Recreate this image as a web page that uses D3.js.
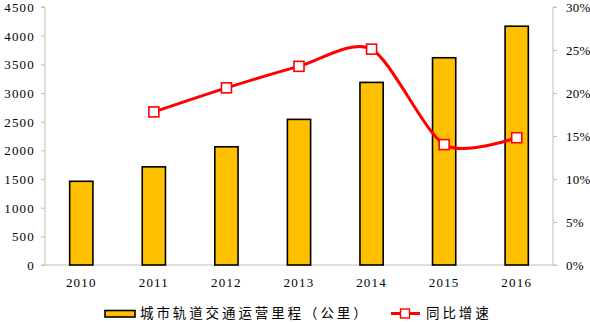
<!DOCTYPE html>
<html><head><meta charset="utf-8">
<script src="https://cdn.jsdelivr.net/npm/d3@7"></script>
<style>
body{margin:0;background:#fff;}
svg{display:block;}
.tk{font-family:"Liberation Serif","Times New Roman",serif;font-size:13px;fill:#000;letter-spacing:1.2px;}
.tkr{font-family:"Liberation Serif","Times New Roman",serif;font-size:13px;fill:#000;letter-spacing:0.3px;}
.lg{font-family:"Noto Sans CJK SC",sans-serif;font-size:13.5px;fill:#000;letter-spacing:2.9px;}
</style></head>
<body>
<svg id="c" width="590" height="322"></svg>
<script>
const years = ["2010","2011","2012","2013","2014","2015","2016"];
const mileage = [1460, 1712, 2062, 2540, 3185, 3615, 4165];
const growth = [null, 17.8, 20.6, 23.1, 25.1, 14.0, 14.8];
const leftTicks = [0,500,1000,1500,2000,2500,3000,3500,4000,4500];
const rightTicks = [0,5,10,15,20,25,30];
const seriesNames = ["城市轨道交通运营里程（公里）","同比增速"];

const svg = d3.select("#c");
const L = 45, R = 553, T = 7, B = 265;
const x = d3.scaleBand().domain(years).range([L, R]).paddingInner(0.68).paddingOuter(0.34);
const y = d3.scaleLinear().domain([0, 4500]).range([B, T]);
const y2 = d3.scaleLinear().domain([0, 30]).range([B, T]);
const axisColor = "#bfbfbf";

// left axis
const gl = svg.append("g").attr("transform", `translate(${L},0)`)
  .call(d3.axisLeft(y).tickValues(leftTicks).tickSize(4).tickPadding(6).tickFormat(d => d));
gl.select(".domain").attr("stroke", axisColor).attr("d", `M-4,${B}H0V${T}H-4`);
gl.selectAll(".tick line").attr("stroke", axisColor);
gl.selectAll(".tick text").attr("class","tk").attr("font-family",null).attr("font-size",null).attr("dy","0.35em");

// right axis
const gr = svg.append("g").attr("transform", `translate(${R},0)`)
  .call(d3.axisRight(y2).tickValues(rightTicks).tickSize(4).tickPadding(9).tickFormat(d => d + "%"));
gr.select(".domain").attr("stroke", axisColor).attr("d", `M4,${B}H0V${T}H4`);
gr.selectAll(".tick line").attr("stroke", axisColor);
gr.selectAll(".tick text").attr("class","tkr").attr("font-family",null).attr("font-size",null).attr("dy","0.35em");

// bottom axis
const gb = svg.append("g").attr("transform", `translate(0,${B})`)
  .call(d3.axisBottom(x).tickSize(0).tickPadding(13));
gb.select(".domain").attr("stroke", axisColor).attr("d", `M${L},0H${R}`);
gb.selectAll(".tick text").attr("class","tk").attr("font-family",null).attr("font-size",null);

// bars
svg.append("g").selectAll("rect").data(years).join("rect")
  .attr("x", (d) => x(d))
  .attr("y", (d,i) => y(mileage[i]))
  .attr("width", x.bandwidth())
  .attr("height", (d,i) => B - y(mileage[i]))
  .attr("fill", "#FFC000").attr("stroke", "#000").attr("stroke-width", 1.6);

// line
const pts = years.map((d,i) => ({yr:d, v:growth[i]})).filter(p => p.v != null);
const cx = d => x(d.yr) + x.bandwidth()/2;
svg.append("path").datum(pts)
  .attr("d", d3.line().x(cx).y(d => y2(d.v)).curve(d3.curveCardinal.tension(0.2)))
  .attr("fill","none").attr("stroke","#ff0000").attr("stroke-width",3);
svg.append("g").selectAll("rect").data(pts).join("rect")
  .attr("x", d => cx(d) - 5).attr("y", d => y2(d.v) - 5)
  .attr("width", 10).attr("height", 10)
  .attr("fill","#fff").attr("stroke","#ff0000").attr("stroke-width",1.6);

// legend
const lg = svg.append("g");
lg.append("rect").attr("x",105).attr("y",310.5).attr("width",30).attr("height",6.5)
  .attr("fill","#FFC000").attr("stroke","#000").attr("stroke-width",1.6);
lg.append("text").attr("class","lg").attr("x",140).attr("y",313.5).attr("dy","0.35em").text(seriesNames[0]);
lg.append("line").attr("x1",391).attr("x2",420).attr("y1",313.5).attr("y2",313.5)
  .attr("stroke","#ff0000").attr("stroke-width",3);
lg.append("rect").attr("x",400.5).attr("y",309).attr("width",9).attr("height",9)
  .attr("fill","#fff").attr("stroke","#ff0000").attr("stroke-width",1.4);
lg.append("text").attr("class","lg").attr("x",426).attr("y",313.5).attr("dy","0.35em").text(seriesNames[1]);
</script>
</body></html>
